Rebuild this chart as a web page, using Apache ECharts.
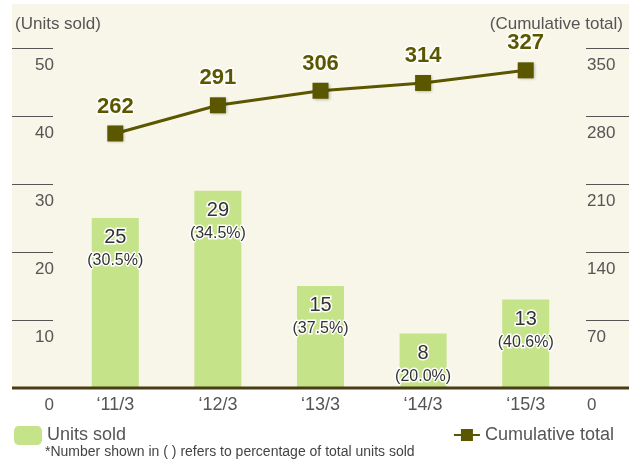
<!DOCTYPE html>
<html>
<head>
<meta charset="utf-8">
<script src="https://cdn.jsdelivr.net/npm/echarts@6/dist/echarts.min.js"></script>
<style>
  html, body { margin: 0; padding: 0; background: #fff; }
  #chart { width: 629px; height: 466px; }
</style>
</head>
<body>
<div id="chart"></div>
<script>
  // data
  var years = ['\u201811/3', '\u201812/3', '\u201813/3', '\u201814/3', '\u201815/3'];
  var unitsSold = [25, 29, 15, 8, 13];
  var shares = ['30.5', '34.5', '37.5', '20.0', '40.6'];
  var cumulative = [262, 291, 306, 314, 327];

  var font = 'Liberation Sans, Arial, sans-serif';
  var green = '#c5e389';
  var olive = '#5b5700';

  var chart = echarts.init(document.getElementById('chart'));

  var option = {
    backgroundColor: '#fff',
    animation: false,
    textStyle: { fontFamily: font },
    graphic: [
      // cream plot background
      { type: 'rect', z: -10, shape: { x: 12, y: 4, width: 617, height: 384 }, style: { fill: '#f8f6e8' } },
      // base line
      { type: 'line', z: 10, shape: { x1: 12, y1: 388, x2: 629, y2: 388 }, style: { stroke: '#4a3c14', lineWidth: 3 } },
      { type: 'text', left: 15, top: 16, style: { text: '(Units sold)', font: '17px ' + font, fill: '#555' } },
      { type: 'text', right: 6, top: 16, style: { text: '(Cumulative total)', font: '17px ' + font, fill: '#555' } },
      { type: 'text', left: 45, top: 445, style: { text: '*Number shown in ( ) refers to percentage of total units sold', font: '14px ' + font, fill: '#444' } }
    ],
    grid: { left: 64, right: 52, top: 48, bottom: 78 },
    legend: [
      {
        left: 9, top: 421, itemWidth: 28, itemHeight: 19, itemGap: 10,
        data: ['Units sold'],
        textStyle: { fontSize: 18, color: '#555', fontFamily: font }
      },
      {
        right: 10, top: 421, itemWidth: 26, itemHeight: 15,
        data: ['Cumulative total'],
        textStyle: { fontSize: 18, color: '#555', fontFamily: font }
      }
    ],
    xAxis: {
      type: 'category',
      data: years,
      axisLine: { show: false },
      axisTick: { show: false },
      axisLabel: { color: '#555', fontSize: 18, margin: 8, fontFamily: font }
    },
    yAxis: [
      {
        type: 'value', min: 0, max: 50, interval: 10, offset: 11,
        splitLine: { show: false },
        axisLine: { show: false },
        axisTick: { show: true, inside: false, length: 41, lineStyle: { color: '#555', width: 1 } },
        axisLabel: { color: '#555', fontSize: 17, margin: -1, verticalAlign: 'top', padding: [9, 0, 0, 0], fontFamily: font }
      },
      {
        type: 'value', min: 0, max: 350, interval: 70, offset: 9, position: 'right',
        splitLine: { show: false },
        axisLine: { show: false },
        axisTick: { show: true, inside: false, length: 43, lineStyle: { color: '#555', width: 1 } },
        axisLabel: { color: '#555', fontSize: 17, margin: 1, verticalAlign: 'top', padding: [9, 0, 0, 0], fontFamily: font }
      }
    ],
    series: [
      {
        name: 'Units sold',
        type: 'bar',
        data: unitsSold,
        barWidth: 47,
        itemStyle: { color: green },
        label: {
          show: true,
          position: 'insideTop',
          distance: 7,
          formatter: function (p) {
            return '{v|' + p.value + '}\n{p|(' + shares[p.dataIndex] + '%)}';
          },
          rich: {
            v: { fontSize: 20, color: '#333', lineHeight: 25, textBorderColor: '#fff', textBorderWidth: 3, fontFamily: font },
            p: { fontSize: 16, color: '#333', lineHeight: 22, textBorderColor: '#fff', textBorderWidth: 3, fontFamily: font }
          }
        }
      },
      {
        name: 'Cumulative total',
        type: 'line',
        yAxisIndex: 1,
        data: cumulative,
        symbol: 'rect',
        symbolSize: 16,
        lineStyle: { color: olive, width: 3 },
        itemStyle: { color: olive, shadowColor: 'rgba(0,0,0,0.3)', shadowBlur: 3, shadowOffsetX: 1, shadowOffsetY: 1 },
        label: {
          show: true,
          position: 'top',
          distance: 8,
          fontSize: 22,
          fontWeight: 'bold',
          color: olive,
          textBorderColor: '#fff',
          textBorderWidth: 3,
          fontFamily: font
        }
      }
    ]
  };

  option && chart.setOption(option);
</script>
</body>
</html>
